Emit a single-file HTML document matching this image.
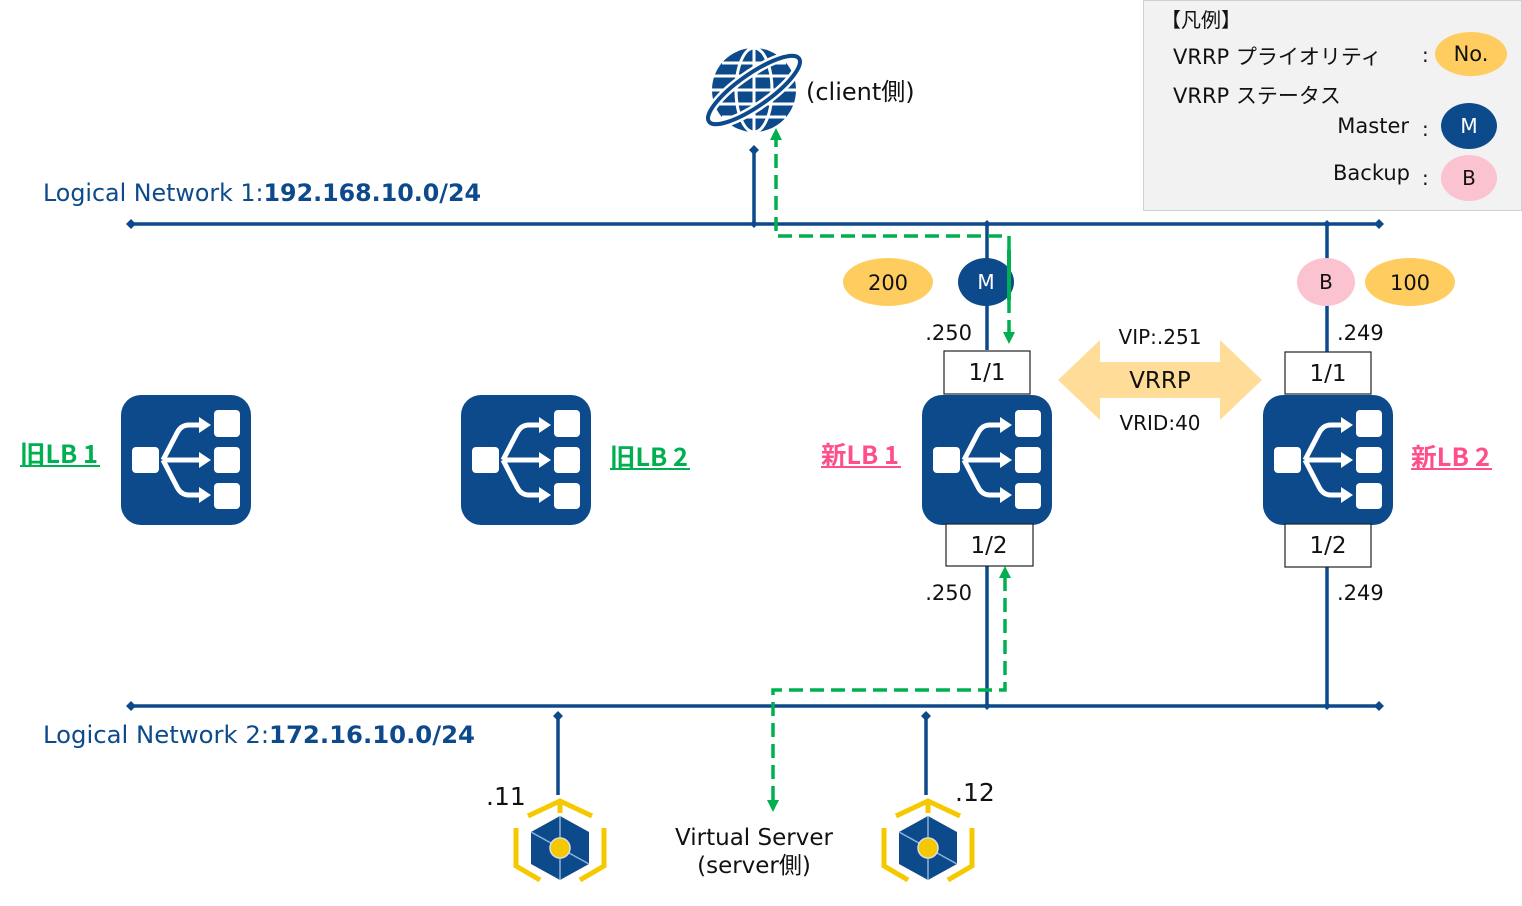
<!DOCTYPE html>
<html><head><meta charset="utf-8"><style>
html,body{margin:0;padding:0;background:#fff;}
svg{display:block;font-family:"DejaVu Sans","Liberation Sans","Noto Sans CJK JP",sans-serif;}
</style></head><body>
<svg width="1522" height="906" viewBox="0 0 1522 906" xmlns="http://www.w3.org/2000/svg">
<defs>
<g id="lb">
<rect x="0" y="0" width="130" height="130" rx="20" fill="#0d4a8b"/>
<rect x="11" y="52" width="27" height="26" rx="4" fill="#fff"/>
<rect x="93" y="15" width="26" height="27" rx="4" fill="#fff"/>
<rect x="93" y="52" width="26" height="26" rx="4" fill="#fff"/>
<rect x="93" y="88" width="26" height="26" rx="4" fill="#fff"/>
<g stroke="#fff" stroke-width="5" fill="none" stroke-linejoin="round">
<path d="M42 65 L80 65"/>
<path d="M42 65 L56 38 Q60 30 68 30 L80 30"/>
<path d="M42 65 L56 92 Q60 100 68 100 L80 100"/>
</g>
<g fill="#fff">
<polygon points="78,22 90,30 78,38"/>
<polygon points="78,57 90,65 78,73"/>
<polygon points="78,92 90,100 78,108"/>
</g>
</g>
<g id="srv">
<g stroke="#f5c800" stroke-width="5" fill="none">
<path d="M-32 -32 L0 -47 L32 -32"/><path d="M0 -47 L0 -35"/>
<path d="M-44 -20 L-44 18 L-20 32"/>
<path d="M44 -20 L44 18 L20 32"/>
</g>
<polygon points="0,-32 29,-16 29,16 0,32 -29,16 -29,-16" fill="#0d4a8b"/>
<path d="M0 -32 L0 0 L-29 -16 M0 0 L0 32 M0 0 L29 16" stroke="#8fb3da" stroke-width="1.5" fill="none"/>
<circle cx="0" cy="0" r="10" fill="#f5c800" stroke="#ddd" stroke-width="1.5"/>
</g>
</defs>

<!-- legend -->
<rect x="1143.5" y="0.5" width="378" height="210" fill="#f2f2f2" stroke="#d0d0d0"/>
<text x="1161" y="27" font-size="20" fill="#111" font-family="Noto Sans CJK JP, sans-serif">【凡例】</text>
<text x="1173" y="64" font-size="21" fill="#111">VRRP <tspan font-family="Noto Sans CJK JP, sans-serif">プライオリティ</tspan></text>
<text x="1422" y="62" font-size="20" fill="#111">:</text>
<ellipse cx="1471" cy="54" rx="36" ry="22" fill="#ffcd5f"/>
<text x="1471" y="61" font-size="21" fill="#111" text-anchor="middle">No.</text>
<text x="1173" y="103" font-size="21" fill="#111">VRRP <tspan font-family="Noto Sans CJK JP, sans-serif">ステータス</tspan></text>
<text x="1409" y="133" font-size="21" fill="#111" text-anchor="end">Master</text>
<text x="1422" y="136" font-size="20" fill="#111">:</text>
<ellipse cx="1469" cy="126" rx="28" ry="23" fill="#0d4a8b"/>
<text x="1469" y="133" font-size="20" fill="#fff" text-anchor="middle">M</text>
<text x="1410" y="180" font-size="21" fill="#111" text-anchor="end">Backup</text>
<text x="1422" y="185" font-size="20" fill="#111">:</text>
<ellipse cx="1469" cy="178" rx="28" ry="23" fill="#fbc3d0"/>
<text x="1469" y="185" font-size="20" fill="#111" text-anchor="middle">B</text>

<!-- globe -->
<g>
<circle cx="754" cy="90" r="42" fill="#0d4a8b"/>
<g stroke="#fff" stroke-width="3" fill="none">
<ellipse cx="754" cy="90" rx="18" ry="42"/>
<line x1="754" y1="48" x2="754" y2="132"/>
<line x1="714" y1="76" x2="794" y2="76"/>
<line x1="712" y1="90" x2="796" y2="90"/>
<line x1="714" y1="104" x2="794" y2="104"/>
<line x1="722" y1="63" x2="786" y2="63"/>
<line x1="722" y1="117" x2="786" y2="117"/>
</g>
<ellipse cx="754" cy="90" rx="55" ry="16" transform="rotate(-35 754 90)" fill="none" stroke="#fff" stroke-width="9"/>
<ellipse cx="754" cy="90" rx="55" ry="16" transform="rotate(-35 754 90)" fill="none" stroke="#0d4a8b" stroke-width="4"/>
</g>
<text x="806" y="100" font-size="24" fill="#111">(client<tspan font-family="Noto Sans CJK JP, sans-serif">側</tspan>)</text>

<!-- network labels -->
<text x="43" y="201" font-size="24" fill="#0d4a8b" textLength="438" lengthAdjust="spacingAndGlyphs">Logical Network 1:<tspan font-weight="bold">192.168.10.0/24</tspan></text>
<text x="43" y="743" font-size="24" fill="#0d4a8b" textLength="432" lengthAdjust="spacingAndGlyphs">Logical Network 2:<tspan font-weight="bold">172.16.10.0/24</tspan></text>

<!-- navy lines -->
<g stroke="#0d4a8b" stroke-width="3.5" fill="none">
<line x1="131" y1="224" x2="1379" y2="224"/>
<line x1="131" y1="706" x2="1379" y2="706"/>
<line x1="754" y1="150" x2="754" y2="224"/>
<line x1="987" y1="224" x2="987" y2="350"/>
<line x1="1327" y1="224" x2="1327" y2="352"/>
<line x1="987" y1="566" x2="987" y2="706"/>
<line x1="1327" y1="567" x2="1327" y2="706"/>
<line x1="558" y1="716" x2="558" y2="795"/>
<line x1="926" y1="716" x2="926" y2="795"/>
</g>
<g fill="#0d4a8b">
<polygon points="131,219 136,224 131,229 126,224"/>
<polygon points="1379,219 1384,224 1379,229 1374,224"/>
<polygon points="131,701 136,706 131,711 126,706"/>
<polygon points="1379,701 1384,706 1379,711 1374,706"/>
<polygon points="754,145 759,150 754,155 749,150"/>
<polygon points="754,220 758,224 754,228 750,224"/>
<polygon points="987,220 991,224 987,228 983,224"/>
<polygon points="1327,220 1331,224 1327,228 1323,224"/>
<polygon points="987,702 991,706 987,710 983,706"/>
<polygon points="1327,702 1331,706 1327,710 1323,706"/>
<polygon points="558,711 563,716 558,721 553,716"/>
<polygon points="926,711 931,716 926,721 921,716"/>
</g>

<!-- green dashed -->
<g stroke="#00b050" stroke-width="3.5" fill="none" stroke-dasharray="14,7">
<polyline points="1009,334 1009,236 776,236 776,140"/>
<polyline points="773,800 773,690 1005,690 1005,578"/>
</g>
<g fill="#00b050">
<polygon points="1003,332 1015,332 1009,344"/>
<polygon points="770,140 782,140 776,128"/>
<polygon points="767,800 779,800 773,812"/>
<polygon points="999,578 1011,578 1005,566"/>
</g>

<!-- ellipses -->
<ellipse cx="888" cy="282" rx="45" ry="24" fill="#ffcd5f"/>
<text x="888" y="290" font-size="21" fill="#111" text-anchor="middle">200</text>
<ellipse cx="986" cy="282" rx="28" ry="24" fill="#0d4a8b"/>
<rect x="1007" y="250" width="4" height="50" fill="#00b050"/>
<text x="986" y="289" font-size="20" fill="#fff" text-anchor="middle">M</text>
<ellipse cx="1326" cy="282" rx="29" ry="24" fill="#fbc3d0"/>
<text x="1326" y="289" font-size="20" fill="#111" text-anchor="middle">B</text>
<ellipse cx="1410" cy="282" rx="45" ry="24" fill="#ffcd5f"/>
<text x="1410" y="290" font-size="21" fill="#111" text-anchor="middle">100</text>

<text x="972" y="340" font-size="21" fill="#111" text-anchor="end">.250</text>
<text x="1337" y="340" font-size="21" fill="#111">.249</text>
<text x="972" y="600" font-size="21" fill="#111" text-anchor="end">.250</text>
<text x="1337" y="600" font-size="21" fill="#111">.249</text>

<!-- VRRP -->
<polygon points="1058,380 1100,340 1100,362 1220,362 1220,340 1262,380 1220,420 1220,398 1100,398 1100,420" fill="#ffdd99"/>
<text x="1160" y="344" font-size="20" fill="#111" text-anchor="middle">VIP:.251</text>
<text x="1160" y="388" font-size="23" fill="#111" text-anchor="middle">VRRP</text>
<text x="1160" y="430" font-size="20" fill="#111" text-anchor="middle">VRID:40</text>

<!-- LBs -->
<use href="#lb" x="121" y="395"/>
<use href="#lb" x="461" y="395"/>
<use href="#lb" x="922" y="395"/>
<use href="#lb" x="1263" y="395"/>

<!-- port boxes -->
<g fill="#fff" stroke="#222" stroke-width="1.2">
<rect x="944" y="351" width="86" height="43"/>
<rect x="946" y="524" width="87" height="42"/>
<rect x="1285" y="352" width="86" height="42"/>
<rect x="1285" y="524" width="86" height="43"/>
</g>
<g font-size="23" fill="#111" text-anchor="middle">
<text x="987" y="380">1/1</text>
<text x="989" y="553">1/2</text>
<text x="1328" y="381">1/1</text>
<text x="1328" y="553">1/2</text>
</g>

<!-- LB labels -->
<g font-size="25" font-weight="bold" font-family="Noto Sans CJK JP, sans-serif">
<text x="20" y="463" fill="#00b050" textLength="78" lengthAdjust="spacingAndGlyphs">旧LB 1</text>
<rect x="20" y="465" width="80" height="2" fill="#00b050"/>
<text x="610" y="466" fill="#00b050" textLength="78" lengthAdjust="spacingAndGlyphs">旧LB 2</text>
<rect x="610" y="468" width="80" height="2" fill="#00b050"/>
<text x="821" y="464" fill="#ff4f8b" textLength="78" lengthAdjust="spacingAndGlyphs">新LB 1</text>
<rect x="821" y="466" width="80" height="2" fill="#ff4f8b"/>
<text x="1411" y="466" fill="#ff4f8b" textLength="79" lengthAdjust="spacingAndGlyphs">新LB 2</text>
<rect x="1411" y="468" width="81" height="2" fill="#ff4f8b"/>
</g>

<!-- servers -->
<use href="#srv" x="560" y="848"/>
<use href="#srv" x="928" y="848"/>
<text x="486" y="805" font-size="25" fill="#111">.11</text>
<text x="955" y="801" font-size="25" fill="#111">.12</text>
<text x="754" y="845" font-size="23" fill="#111" text-anchor="middle">Virtual Server</text>
<text x="754" y="873" font-size="23" fill="#111" text-anchor="middle">(server<tspan font-family="Noto Sans CJK JP, sans-serif">側</tspan>)</text>
</svg>
</body></html>
